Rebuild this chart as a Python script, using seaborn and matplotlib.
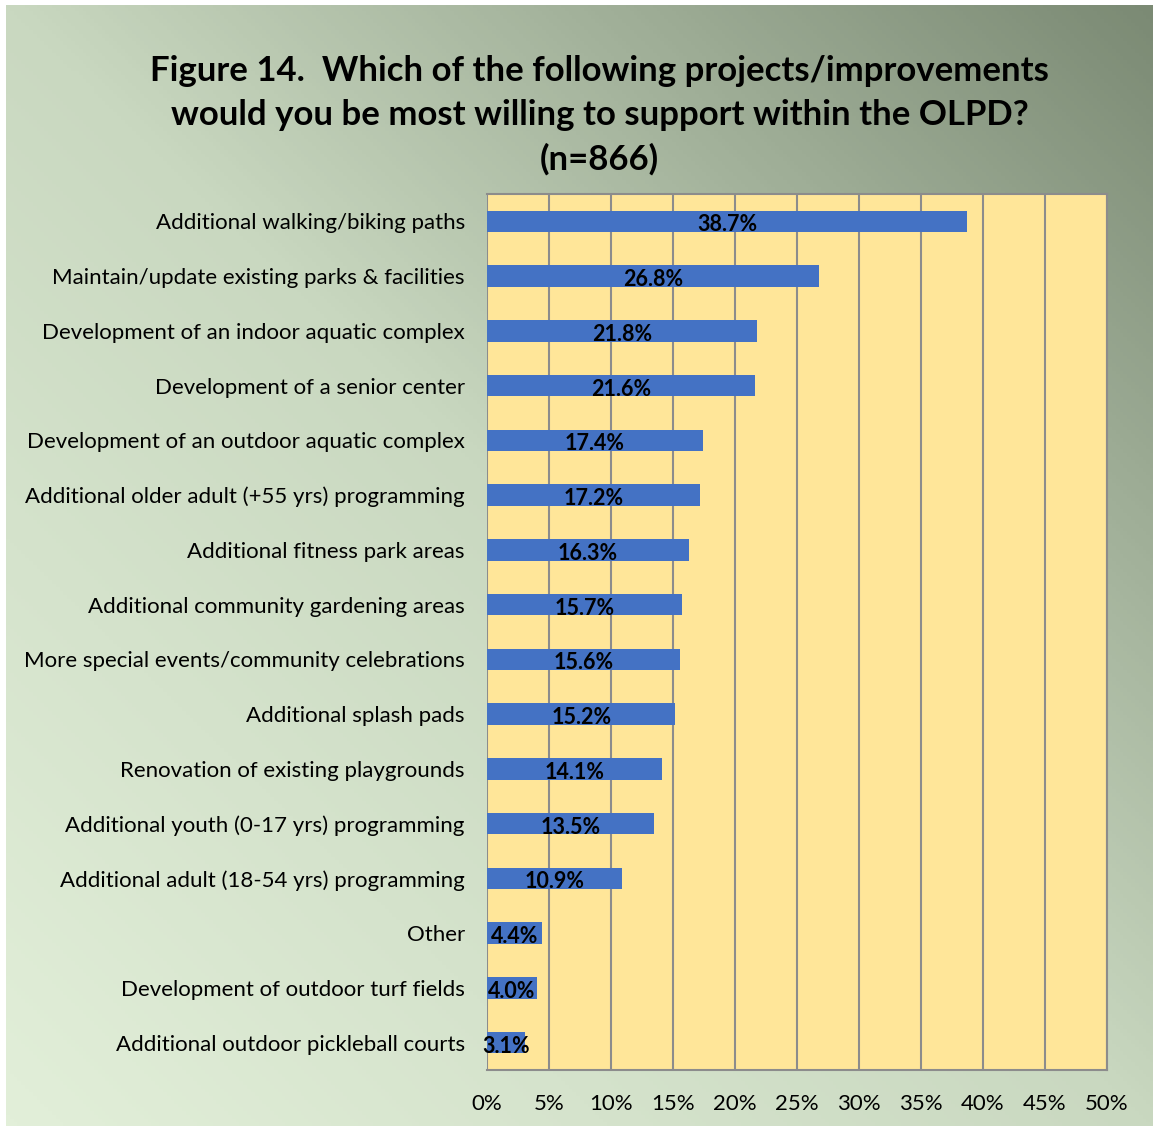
import numpy as np
import pandas as pd
import matplotlib
matplotlib.use('Agg')
import matplotlib.pyplot as plt
from matplotlib.colors import LinearSegmentedColormap
import seaborn as sns

# Chart data
projects = [
    'Additional walking/biking paths',
    'Maintain/update existing parks & facilities',
    'Development of an indoor aquatic complex',
    'Development of a senior center',
    'Development of an outdoor aquatic complex',
    'Additional older adult (+55 yrs) programming',
    'Additional fitness park areas',
    'Additional community gardening areas',
    'More special events/community celebrations',
    'Additional splash pads',
    'Renovation of existing playgrounds',
    'Additional youth (0-17 yrs) programming',
    'Additional adult (18-54 yrs) programming',
    'Other',
    'Development of outdoor turf fields',
    'Additional outdoor pickleball courts',
]
support = [38.7, 26.8, 21.8, 21.6, 17.4, 17.2, 16.3, 15.7, 15.6, 15.2, 14.1, 13.5, 10.9, 4.4, 4.0, 3.1]
x_ticks = [0, 5, 10, 15, 20, 25, 30, 35, 40, 45, 50]
title = ('Figure 14.  Which of the following projects/improvements\n'
         'would you be most willing to support within the OLPD?\n'
         '(n=866)')

df = pd.DataFrame({'Project': projects, 'Support': support})

sns.set_theme(style='white')
plt.rcParams['font.family'] = ['Lato', 'DejaVu Sans']

fig = plt.figure(figsize=(11.53, 11.26), dpi=100)
fig.patch.set_facecolor('white')

# gradient background (light bottom-left -> dark top-right)
bg = fig.add_axes([0.0052, 0, 0.9948, 0.9956], zorder=-1)
xx, yy = np.meshgrid(np.linspace(0, 1, 300), np.linspace(0, 1, 300))
cmap = LinearSegmentedColormap.from_list('bg', ['#e2efd9', '#c9d8c0', '#7b8a74'])
bg.imshow((xx + yy) / 2, cmap=cmap, origin='lower', aspect='auto', extent=[0, 1, 0, 1])
bg.axis('off')

ax = fig.add_axes([0.4224, 0.0497, 0.5377, 0.778], zorder=1)
sns.barplot(data=df, x='Support', y='Project', orient='h', color='#4472C4',
            saturation=1, width=0.39, linewidth=0, ax=ax)
anns = ax.bar_label(ax.containers[0], labels=[f'{v:.1f}%' for v in support],
                    label_type='center', fontsize=15.5, fontweight='bold', color='black')
for a in anns:
    a.xyann = (0, -2.5)  # sit the labels a touch lower, like the original

ax.set_facecolor('#FFE699')
ax.set_xlim(0, 50)
ax.set_xticks(x_ticks)
ax.set_xticklabels([f'{t}%' for t in x_ticks])
ax.grid(axis='x', color='#8c8c8c', linewidth=1.5)
ax.grid(axis='y', visible=False)
ax.set_axisbelow(True)
for side in ['top', 'right', 'bottom']:
    ax.spines[side].set_visible(True)
    ax.spines[side].set_color('#8c8c8c')
    ax.spines[side].set_linewidth(1.5)
ax.spines['left'].set_visible(False)
ax.tick_params(axis='x', length=0, pad=17, labelsize=16, labelcolor='black')
ax.tick_params(axis='y', length=0, pad=16, labelsize=16, labelcolor='black')
ax.set_xlabel('')
ax.set_ylabel('')

fig.text(0.52, 1 - 55 / 1126, title, ha='center', va='top', fontsize=25,
         fontweight='bold', linespacing=1.45, color='black')

fig.savefig('out.png', dpi=100)
